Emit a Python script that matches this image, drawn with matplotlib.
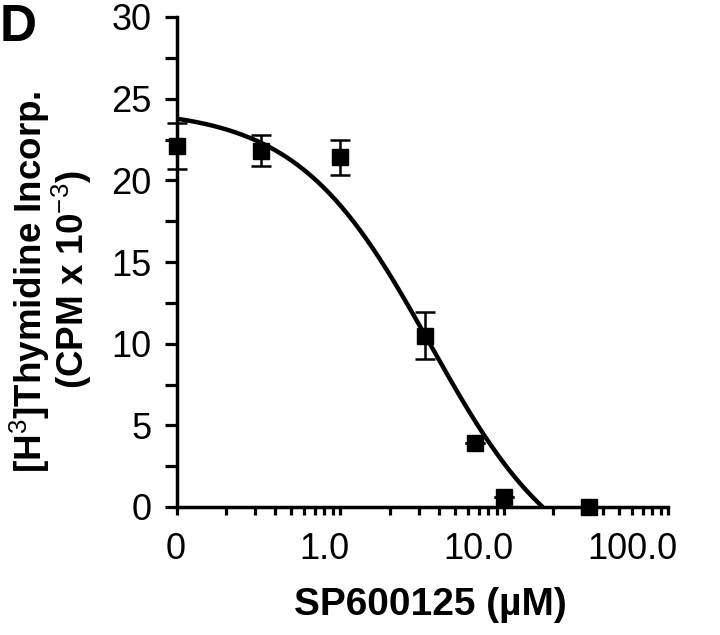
import matplotlib
matplotlib.use("Agg")
import numpy as np
import matplotlib.pyplot as plt
from matplotlib.ticker import FixedLocator, NullFormatter
from matplotlib.transforms import ScaledTranslation

# ---- data ----
# x position 0.1 stands for the "0" (vehicle) dose on the log axis
conc = [0.1, 0.33, 1.0, 3.3, 6.6, 10.0, 33.0]
cpm = [22.1, 21.8, 21.4, 10.5, 3.9, 0.6, 0.0]
cpm_err = [1.4, 0.95, 1.05, 1.45, 0.0, 0.0, 0.0]

# fitted dose-response curve (4-parameter logistic)
fit_top, fit_bottom, fit_ic, fit_hill = 24.4, -4.5, 3.54, 1.07

x_ticks = [0.1, 1.0, 10.0, 100.0]
x_ticklabels = ["0", "1.0", "10.0", "100.0"]
y_ticks = [0, 5, 10, 15, 20, 25, 30]

plt.rcParams['mathtext.fontset'] = 'custom'
plt.rcParams['mathtext.rm'] = 'Liberation Sans'
plt.rcParams['mathtext.it'] = 'Liberation Sans:italic'
plt.rcParams['mathtext.bf'] = 'Liberation Sans:bold'
plt.rcParams['font.family'] = ['Liberation Sans', 'DejaVu Sans']

W, H = 720, 635
fig = plt.figure(figsize=(W / 100, H / 100), dpi=100)
ax = fig.add_axes([176.5 / W, 1 - 507 / H, (668 - 176.5) / W, 490 / H])

ax.set_xscale('log')
ax.set_xlim(0.1, 100)
ax.set_ylim(0, 30)

# fitted curve, drawn until it reaches zero
def logistic(x):
    return fit_bottom + (fit_top - fit_bottom) / (1 + (x / fit_ic) ** fit_hill)

x_zero = fit_ic * ((fit_top - fit_bottom) / (0 - fit_bottom) - 1) ** (1 / fit_hill)
xs = np.logspace(np.log10(0.1), np.log10(x_zero), 300)
ax.plot(xs, logistic(xs), color='black', lw=3.2, solid_capstyle='butt',
        clip_on=False, zorder=2)

ax.errorbar(conc, cpm, yerr=cpm_err, fmt='s', color='black', ms=12,
            capsize=7, elinewidth=1.8, capthick=1.8, clip_on=False, zorder=3)

for s in ['top', 'right']:
    ax.spines[s].set_visible(False)
for s in ['left', 'bottom']:
    ax.spines[s].set_linewidth(2.5)

ax.yaxis.set_major_locator(FixedLocator(y_ticks))
ax.yaxis.set_minor_locator(FixedLocator([2.5, 7.5, 12.5, 17.5, 22.5, 27.5]))
ax.tick_params(axis='y', which='both', direction='out', length=9, width=2.3,
               labelsize=26, pad=9)

ax.xaxis.set_major_locator(FixedLocator(x_ticks))
ax.set_xticklabels(x_ticklabels)
ax.xaxis.set_minor_formatter(NullFormatter())
ax.tick_params(axis='x', which='both', direction='out', length=6, width=2.3,
               labelsize=26, pad=12)
off = ScaledTranslation(9 / 100, 0, fig.dpi_scale_trans)
for lab in ax.get_xticklabels():
    lab.set_horizontalalignment('right')
    lab.set_transform(lab.get_transform() + off)

fig.text(430 / W, 1 - 605 / H, 'SP600125 (µM)', ha='center', va='center',
         fontsize=28, fontweight='bold')
fig.text(30 / W, 1 - 282 / H, r'[H$^{3}$]Thymidine Incorp.', rotation=90,
         ha='center', va='center', fontsize=26.5, fontweight='bold')
fig.text(72 / W, 1 - 280 / H, r'(CPM x 10$^{-3}$)', rotation=90,
         ha='center', va='center', fontsize=26.5, fontweight='bold')
fig.text(0 / W, 1 - 3 / H, 'D', ha='left', va='top', fontsize=37,
         fontweight='bold')

fig.savefig('out.png', dpi=100)
